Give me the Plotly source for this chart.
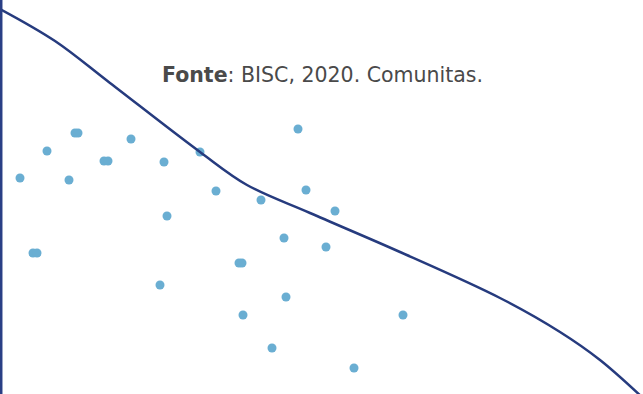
import plotly.graph_objects as go

dots_x = [20, 47, 75, 78, 69, 104, 108, 131, 164, 200, 167, 216, 261, 298, 306,
          335, 284, 326, 33, 37, 160, 239, 242, 286, 243, 272, 403, 354]
dots_y = [216, 243, 261, 261, 214, 233, 233, 255, 232, 242, 178, 203, 194, 265, 204,
          183, 156, 147, 141, 141, 109, 131, 131, 97, 79, 46, 79, 26]

# Trend curve
trend_x = [0, 55, 110, 200, 247, 310, 400, 500, 560, 600, 643]
trend_y = [385, 353, 311, 242, 209, 181, 142, 96, 62, 34, -4]

source_label = "<b>Fonte</b>: BISC, 2020. Comunitas."

fig = go.Figure()
fig.add_trace(go.Scatter(
    x=dots_x, y=dots_y, mode="markers",
    marker=dict(color="#6aaed2", size=9, line=dict(width=0)),
    hoverinfo="skip", showlegend=False,
))
fig.add_trace(go.Scatter(
    x=trend_x, y=trend_y, mode="lines",
    line=dict(color="#263b7e", width=2.5, shape="spline", smoothing=1),
    hoverinfo="skip", showlegend=False,
))

fig.add_shape(type="line", xref="paper", yref="paper", x0=0.0019, x1=0.0019, y0=0, y1=1,
              line=dict(color="#2a3f85", width=2.5))

fig.add_annotation(text=source_label, xref="paper", yref="paper", x=0.501, y=(394 - 75) / 394,
                   showarrow=False, xanchor="center", yanchor="middle",
                   font=dict(family="DejaVu Sans, sans-serif", size=20.5, color="#4a4a4a"))

fig.update_layout(
    width=643, height=394,
    margin=dict(l=0, r=0, t=0, b=0),
    paper_bgcolor="white", plot_bgcolor="white",
    xaxis=dict(range=[0, 643], visible=False, fixedrange=True),
    yaxis=dict(range=[0, 394], visible=False, fixedrange=True),
)

fig.write_html(
    "out.html",
    config={"displayModeBar": False},
    post_script="document.body.style.margin='0';document.body.style.overflow='hidden';",
)
